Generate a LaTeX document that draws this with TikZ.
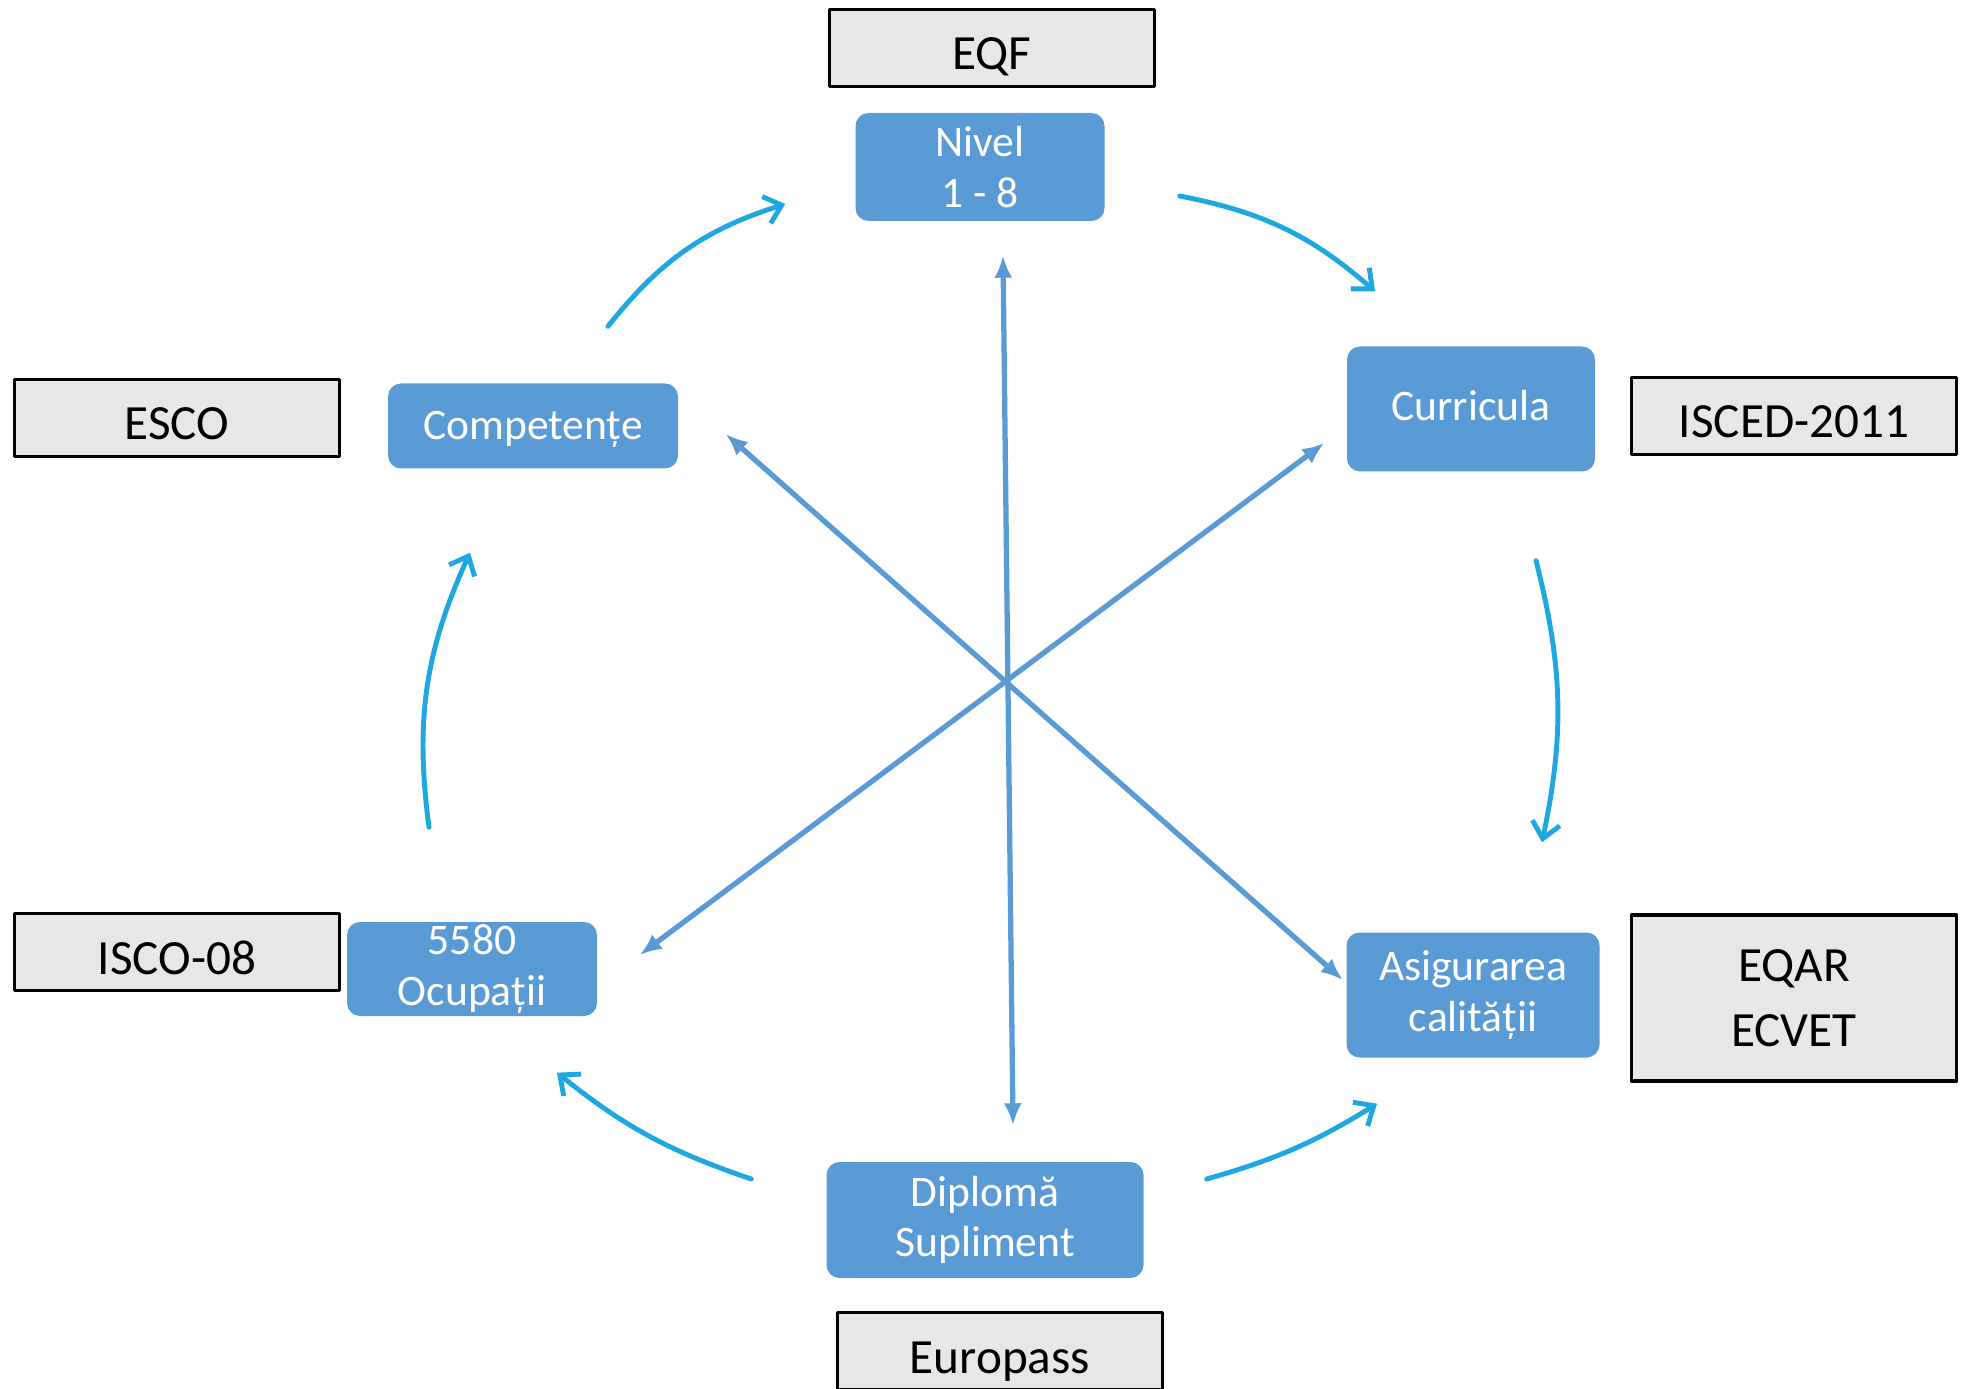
\documentclass[tikz,border=0pt]{standalone}
\usepackage{fontspec}
\setmainfont{Carlito}
\usetikzlibrary{arrows.meta}
\definecolor{boxblue}{HTML}{5B9BD5}
\definecolor{linkblue}{HTML}{5B9BD5}
\definecolor{flowblue}{HTML}{1EA7E1}
\definecolor{tagfill}{HTML}{E7E7E7}
\tikzset{
	bluebox/.style={fill=boxblue, rounded corners=0.13cm, text=white, inner sep=0pt, align=center, font=\fontsize{12.4}{14.3}\selectfont},
	graybox/.style={fill=tagfill, draw=black, line width=1.1pt, inner sep=0pt, align=center, minimum width=3.25cm, minimum height=0.77cm, font=\fontsize{14}{18.6}\selectfont},
	oneline/.style={text height=0.44cm, text depth=0pt},
	link/.style={linkblue, line width=1.5pt, {Latex[length=0.22cm,width=0.18cm]}-{Latex[length=0.22cm,width=0.18cm]}},
	flow/.style={flowblue, line width=1.4pt, -{Straight Barb[length=0.16cm,width=0.28cm]}}
}
\begin{document}
\begin{tikzpicture}[line join=round, line cap=round]
	\useasboundingbox (0,0) rectangle (19.66,13.88);
	\clip (0,0) rectangle (19.66,13.88);
	% blue boxes
	\node[bluebox, minimum width=2.49cm, minimum height=1.08cm] (niv) at (9.80,12.21) {Nivel\\1 - 8};
	\node[bluebox, minimum width=2.48cm, minimum height=1.25cm, text height=0.24cm, text depth=0pt] (cur) at (14.71,9.79) {Curricula};
	\node[bluebox, minimum width=2.53cm, minimum height=1.25cm] (asi) at (14.73,3.93) {Asigurarea\\calității};
	\node[bluebox, minimum width=3.17cm, minimum height=1.16cm] (dip) at (9.85,1.68) {Diplomă\\Supliment};
	\node[bluebox, minimum width=2.50cm, minimum height=0.94cm] (ocu) at (4.72,4.19) {5580\\Ocupații};
	\node[bluebox, minimum width=2.90cm, minimum height=0.85cm, text height=0.28cm, text depth=0pt] (com) at (5.33,9.62) {Competențe};
	% gray boxes
	\node[graybox, oneline] (eqf) at (9.92,13.40) {EQF};
	\node[graybox, oneline] (isced) at (17.94,9.72) {ISCED-2011};
	\node[graybox, minimum height=1.66cm] (eqar) at (17.94,3.90) {EQAR\\ECVET};
	\node[graybox, oneline] (europass) at (10.00,0.37) {Europass};
	\node[graybox, oneline] (isco) at (1.77,4.36) {ISCO-08};
	\node[graybox, oneline] (esco) at (1.77,9.70) {ESCO};
	% straight links
	\draw[link] ([shift={(0.23,-0.34)}]niv.south) -- ([shift={(0.28,0.36)}]dip.north);
	\draw[link] ([shift={(0.47,-0.08)}]com.east) -- ([shift={(-0.03,0.15)}]asi.west);
	\draw[link] ([shift={(-0.22,-0.34)}]cur.west) -- ([shift={(0.42,0.14)}]ocu.east);
	% curved arrows
	\draw[flow] ([shift={(0.75,0.565)}]com.north) to[bend left=17] ([shift={(-0.695,-0.37)}]niv.west);
	\draw[flow] ([shift={(0.745,-0.29)}]niv.east) to[bend left=15] ([shift={(-0.96,0.545)}]cur.north);
	\draw[flow] ([shift={(0.65,-0.885)}]cur.south) to[bend left=13] ([shift={(0.69,0.895)}]asi.north);
	\draw[flow] ([shift={(0.625,0.41)}]dip.east) to[bend right=8] ([shift={(-0.96,-0.455)}]asi.south);
	\draw[flow] ([shift={(-0.745,0.41)}]dip.west) to[bend left=10] ([shift={(0.85,-0.56)}]ocu.south);
	\draw[flow] ([shift={(-0.43,0.94)}]ocu.north) to[bend left=16] ([shift={(-0.63,-0.835)}]com.south);
\end{tikzpicture}
\end{document}
